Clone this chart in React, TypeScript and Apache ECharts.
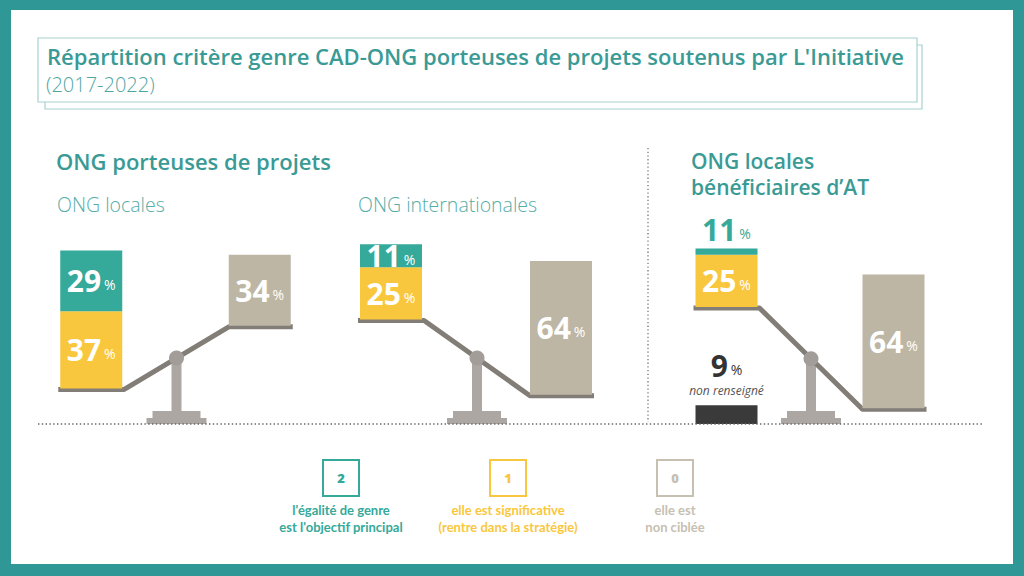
import React, { useEffect, useRef } from "react";
import * as echarts from "echarts";

// ---- Data ----
const titleMain = "Répartition critère genre CAD-ONG porteuses de projets soutenus par L'Initiative";
const titleSub = "(2017-2022)";
const sectionTitle = "ONG porteuses de projets";
const panelNames = ["ONG locales", "ONG internationales"];
const atTitleLines = ["ONG locales", "bénéficiaires d’AT"];
const score2 = [29, 11, 11]; // l'égalité de genre est l'objectif principal
const score1 = [37, 25, 25]; // elle est significative
const score0 = [34, 64, 64]; // elle est non ciblée
const nonRenseigne: (number | null)[] = [null, null, 9];
const nonRenseigneLabel = "non renseigné";
const legendCodes = ["2", "1", "0"];
const legendLines = [
  ["l'égalité de genre", "est l'objectif principal"],
  ["elle est significative", "(rentre dans la stratégie)"],
  ["elle est", "non ciblée"],
];

// ---- Styles / layout ----
const TEAL = "#35A99A";
const YELLOW = "#F9C73D";
const GREYBOX = "#BDB6A4";
const DARK = "#3A3A3A";
const BEAM = "#827D77";
const STAND = "#ADA7A3";
const HEAD = "#3A9A95";
const FRAME = "#2F9796";
const legendColors = [TEAL, YELLOW, "#C6BFB2"];
const FONT = "Open Sans";
const LFONT = "Lato";
const NUMFONT = "Open Sans";
const BAR_W = 62;
const STRIPE = 3; // visual thickness of the thin stripe in the AT panel
const gridDefs = [
  { left: 7, width: 337 },
  { left: 306, width: 340 },
  { left: 643, width: 334 },
];
const lifts = [
  { l: 17, r: 47 },
  { l: 50, r: 14 },
  { l: 56, r: 7.5 },
];
const GRID_TOP = 215;
const GRID_H = 209;
const BASE_Y = GRID_TOP + GRID_H;

const rich = {
  n: { fontFamily: NUMFONT, fontWeight: 700, fontSize: 30, color: "#fff", lineHeight: 34 },
  p: { fontFamily: NUMFONT, fontWeight: 400, fontSize: 14, color: "#fff", padding: [8, 0, 0, 3] },
  nt: { fontFamily: NUMFONT, fontWeight: 700, fontSize: 30, color: TEAL, lineHeight: 34 },
  pt: { fontFamily: NUMFONT, fontWeight: 400, fontSize: 14, color: TEAL, padding: [8, 0, 0, 3] },
  nd: { fontFamily: NUMFONT, fontWeight: 700, fontSize: 30, color: "#333", lineHeight: 34 },
  pd: { fontFamily: NUMFONT, fontWeight: 400, fontSize: 14, color: "#333", padding: [8, 0, 0, 3] },
  s: { fontFamily: FONT, fontStyle: "italic", fontSize: 12, color: "#555", lineHeight: 16 },
};

function staticGraphics(): any[] {
  const g: any[] = [];
  g.push({ type: "rect", id: "frame", z: 0, shape: { x: 0, y: 0, width: 1024, height: 576 }, style: { fill: FRAME } });
  g.push({ type: "rect", id: "inner", z: 1, shape: { x: 11, y: 10, width: 1002, height: 554 }, style: { fill: "#fff" } });
  g.push({ type: "rect", id: "tshadow", z: 2, shape: { x: 45, y: 45, width: 877, height: 64 }, style: { fill: "#fff", stroke: "#A6D2CF", lineWidth: 1.2 } });
  g.push({ type: "rect", id: "tbox", z: 3, shape: { x: 38, y: 38, width: 879, height: 64 }, style: { fill: "#fff", stroke: "#A6D2CF", lineWidth: 1.2 } });
  g.push({ type: "text", id: "t1", z: 4, x: 47, y: 56, style: { text: titleMain, font: `600 22px ${FONT}`, fill: HEAD, verticalAlign: "middle" } });
  g.push({ type: "text", id: "t2", z: 4, x: 46, y: 84, style: { text: titleSub, font: `300 20px ${FONT}`, fill: "#4FA6A1", verticalAlign: "middle" } });
  g.push({ type: "text", id: "s1", z: 4, x: 56, y: 161, style: { text: sectionTitle, font: `600 22px ${FONT}`, fill: HEAD, verticalAlign: "middle" } });
  g.push({ type: "text", id: "p1", z: 4, x: 57, y: 204, style: { text: panelNames[0], font: `300 19.5px ${FONT}`, fill: "#55ADA7", verticalAlign: "middle" } });
  g.push({ type: "text", id: "p2", z: 4, x: 358, y: 204, style: { text: panelNames[1], font: `300 19.5px ${FONT}`, fill: "#55ADA7", verticalAlign: "middle" } });
  atTitleLines.forEach((ln, j) => {
    g.push({ type: "text", id: "a" + j, z: 4, x: 691, y: 160.5 + j * 26, style: { text: ln, font: `600 21px ${FONT}`, fill: HEAD, verticalAlign: "middle" } });
  });
  g.push({ type: "line", id: "vdot", z: 4, shape: { x1: 648, y1: 148, x2: 648, y2: 422 }, style: { stroke: "#777", lineWidth: 1.3, lineDash: [1.3, 2.4] } });
  g.push({ type: "line", id: "hdot", z: 4, shape: { x1: 38, y1: BASE_Y, x2: 982, y2: BASE_Y }, style: { stroke: "#666", lineWidth: 1.5, lineDash: [1.4, 2.4] } });
  legendCodes.forEach((c, i) => {
    const cx = 341 + i * 167;
    g.push({ type: "rect", id: "lb" + i, z: 4, shape: { x: cx - 18, y: 460, width: 36, height: 36 }, style: { fill: "#fff", stroke: legendColors[i], lineWidth: 2 } });
    g.push({ type: "text", id: "lc" + i, z: 5, x: cx, y: 478, style: { text: c, font: `800 13px ${NUMFONT}`, fill: legendColors[i], align: "center", verticalAlign: "middle" } });
    legendLines[i].forEach((ln, j) => {
      g.push({ type: "text", id: `ll${i}_${j}`, z: 5, x: cx, y: 510 + j * 17, style: { text: ln, font: `700 13px ${LFONT}`, fill: legendColors[i], align: "center", verticalAlign: "middle" } });
    });
  });
  return g;
}

function buildOption(extra: any[]): any {
  const grid = gridDefs.map((d) => ({ left: d.left, width: d.width, top: GRID_TOP, height: GRID_H, containLabel: false }));
  const xAxis = gridDefs.map((_, i) => ({ type: "category", gridIndex: i, data: ["g", "d"], show: false }));
  const yAxis = gridDefs.map((_, i) => ({ type: "value", gridIndex: i, min: 0, max: 100, show: false }));
  const series: any[] = [];
  gridDefs.forEach((_, i) => {
    const st = "p" + i;
    const base = { type: "bar", xAxisIndex: i, yAxisIndex: i, stack: st, barWidth: BAR_W, z: 3 };
    const nr = nonRenseigne[i];
    if (nr != null) {
      series.push({
        ...base,
        name: "nr" + i,
        data: [nr, "-"],
        itemStyle: { color: DARK },
        label: { show: true, position: "top", distance: 7, formatter: `{nd|${nr}}{pd|%}\n{s|${nonRenseigneLabel}}`, rich, align: "center" },
      });
    }
    series.push({
      ...base,
      name: "lift" + i,
      data: [lifts[i].l - (nr ?? 0), lifts[i].r],
      itemStyle: { color: "rgba(0,0,0,0)" },
      silent: true,
    });
    series.push({
      ...base,
      name: "1-" + i,
      data: [score1[i], "-"],
      itemStyle: { color: YELLOW },
      label: { show: true, position: "inside", formatter: `{n|${score1[i]}}{p|%}`, rich },
    });
    const thin = i === 2;
    series.push({
      ...base,
      name: "2-" + i,
      data: [thin ? STRIPE : score2[i], "-"],
      itemStyle: { color: TEAL },
      label: thin
        ? { show: true, position: "top", distance: 2, formatter: `{nt|${score2[i]}}{pt|%}`, rich }
        : { show: true, position: "inside", formatter: `{n|${score2[i]}}{p|%}`, rich },
    });
    series.push({
      ...base,
      name: "0-" + i,
      data: ["-", score0[i]],
      itemStyle: { color: GREYBOX },
      label: { show: true, position: "inside", formatter: `{n|${score0[i]}}{p|%}`, rich },
    });
  });
  return {
    animation: false,
    grid,
    xAxis,
    yAxis,
    series,
    graphic: { elements: [...staticGraphics(), ...extra] },
  };
}

export default function App() {
  const ref = useRef<HTMLDivElement>(null);
  useEffect(() => {
    document.body.style.margin = "0";
    if (!ref.current) return;
    const chart = echarts.init(ref.current, undefined, { renderer: "svg" });
    chart.setOption(buildOption([]));
    const extra: any[] = [];
    gridDefs.forEach((_, i) => {
      const f = { gridIndex: i };
      const pl = chart.convertToPixel(f as any, [0, lifts[i].l]) as number[];
      const pr = chart.convertToPixel(f as any, [1, lifts[i].r]) as number[];
      const half = BAR_W / 2;
      const a = [pl[0] - half - 2, pl[1] + 1];
      const b = [pl[0] + half + 2, pl[1] + 1];
      const c = [pr[0] - half, pr[1] + 1];
      const d = [pr[0] + half + 2, pr[1] + 1];
      const mx = (b[0] + c[0]) / 2;
      const my = (b[1] + c[1]) / 2;
      extra.push({ type: "rect", id: "post" + i, z: 2, shape: { x: mx - 5, y: my, width: 10, height: BASE_Y - 13 - my }, style: { fill: STAND } });
      extra.push({ type: "rect", id: "pl1" + i, z: 2, shape: { x: mx - 24, y: BASE_Y - 13, width: 48, height: 7 }, style: { fill: STAND } });
      extra.push({ type: "rect", id: "pl2" + i, z: 2, shape: { x: mx - 30, y: BASE_Y - 6, width: 60, height: 6 }, style: { fill: STAND } });
      extra.push({ type: "polyline", id: "beam" + i, z: 2, shape: { points: [a, b, c, d] }, style: { stroke: BEAM, lineWidth: 5, fill: null, lineJoin: "round" } });
      extra.push({ type: "circle", id: "piv" + i, z: 2, shape: { cx: mx, cy: my, r: 7.5 }, style: { fill: "#A39D99" } });
    });
    chart.setOption(buildOption(extra), { notMerge: true });
    return () => chart.dispose();
  }, []);
  return <div ref={ref} style={{ position: "absolute", left: 0, top: 0, width: 1024, height: 576 }} />;
}
